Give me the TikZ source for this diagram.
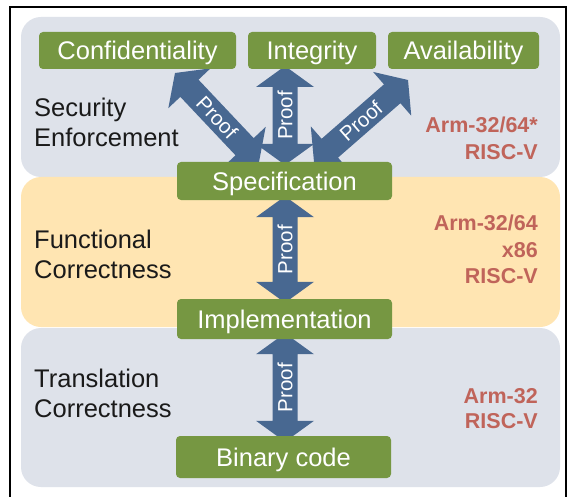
\documentclass[tikz,border=0pt]{standalone}
\usepackage{fontspec}
\setmainfont{Liberation Sans}
\usetikzlibrary{calc}
\pgfdeclarelayer{bands}
\pgfdeclarelayer{arrows}
\pgfsetlayers{bands,arrows,main}

\definecolor{boxgreen}{RGB}{118,151,66}
\definecolor{arrowblue}{RGB}{72,104,145}
\definecolor{bandgray}{RGB}{222,226,234}
\definecolor{bandyellow}{RGB}{255,229,178}
\definecolor{archred}{RGB}{192,100,90}
\definecolor{labelblack}{RGB}{26,26,26}

\newcommand\arrHL{21pt}
\newcommand\arrHH{29pt}
\newcommand\arrSH{12.5pt}
% #1 start, #2 end, #3 label name
\newcommand\ProofArrow[3]{%
  \fill[arrowblue] (#1)
    -- ($(#1)!\arrHL!(#2)!\arrHH!90:(#2)$)
    -- ($(#1)!\arrHL!(#2)!\arrSH!90:(#2)$)
    -- ($(#2)!\arrHL!(#1)!\arrSH!-90:(#1)$)
    -- ($(#2)!\arrHL!(#1)!\arrHH!-90:(#1)$)
    -- (#2)
    -- ($(#2)!\arrHL!(#1)!\arrHH!90:(#1)$)
    -- ($(#2)!\arrHL!(#1)!\arrSH!90:(#1)$)
    -- ($(#1)!\arrHL!(#2)!\arrSH!-90:(#2)$)
    -- ($(#1)!\arrHL!(#2)!\arrHH!-90:(#2)$)
    -- cycle;
  \path (#1) -- (#2) node[midway, sloped, prooftext] (#3) {Proof};%
}

\begin{document}
\begin{tikzpicture}[x=1pt,y=-1pt,
  box/.style={fill=boxgreen, rounded corners=4pt, text=white,
    font=\fontsize{25.5}{30}\selectfont, inner sep=0pt,
    text height=18.3pt, text depth=0pt},
  lab/.style={text=labelblack, font=\fontsize{25.5}{30}\selectfont,
    anchor=base west, inner sep=0pt},
  arch/.style={text=archred, font=\bfseries\fontsize{21.5}{26}\selectfont,
    anchor=base east, inner sep=0pt},
  prooftext/.style={text=white, font=\fontsize{20.5}{24}\selectfont, inner sep=0pt}
]
\useasboundingbox (0,0) rectangle (575,497);

% bands
\begin{pgfonlayer}{bands}
\fill[white] (0,0) rectangle (575,497);
\fill[bandgray, rounded corners=20pt] (21,17) rectangle (560,177);
\fill[bandyellow, rounded corners=20pt] (21,177) rectangle (560,327);
\fill[bandgray, rounded corners=20pt] (21,328) rectangle (560,487);
\draw[black, line width=1.3pt] (10,520) -- (10,7) -- (566,7) -- (566,520);
\end{pgfonlayer}

% boxes
\node[box, minimum width=197pt, minimum height=37pt] (conf) at (137.5,50.5) {Confidentiality};
\node[box, minimum width=128pt, minimum height=37pt] (integ) at (312,50.5) {Integrity};
\node[box, minimum width=151pt, minimum height=37pt] (avail) at (463.5,50.5) {Availability};
\node[box, minimum width=215pt, minimum height=38pt] (spec) at (284.5,181) {Specification};
\node[box, minimum width=215pt, minimum height=40pt] (impl) at (284.5,319) {Implementation};
\node[box, minimum width=215pt, minimum height=42pt] (bin) at (283.5,457) {Binary code};

% arrow end points
\coordinate (la1) at (175,73);
\coordinate (la2) at (259,162);
\coordinate (va1) at (285,165);
\coordinate (va2) at (285,66);
\coordinate (ra1) at (314,162);
\coordinate (ra2) at (408,80);
\coordinate (ma1) at ($(impl.north)+(0.5,4)$);
\coordinate (ma2) at ($(spec.south)+(0.5,-4)$);
\coordinate (ba1) at ($(bin.north)+(1.5,6)$);
\coordinate (ba2) at ($(impl.south)+(0.5,-6)$);

\begin{pgfonlayer}{arrows}
\ProofArrow{la1}{la2}{p1}
\ProofArrow{va1}{va2}{p2}
\ProofArrow{ra1}{ra2}{p3}
\ProofArrow{ma1}{ma2}{p4}
\ProofArrow{ba1}{ba2}{p5}
\end{pgfonlayer}

% left labels
\node[lab] (se1) at (34,117) {Security};
\node[lab] (se2) at (34,147) {Enforcement};
\node[lab] (fc1) at (34,248) {Functional};
\node[lab] (fc2) at (34,278) {Correctness};
\node[lab] (tc1) at (34,387) {Translation};
\node[lab] (tc2) at (34,417) {Correctness};

% right labels
\node[arch] (a1) at (538,133) {Arm-32/64*};
\node[arch] (a2) at (538,160) {RISC-V};
\node[arch] (b1) at (538,230) {Arm-32/64};
\node[arch] (b2) at (538,257) {x86};
\node[arch] (b3) at (538,283) {RISC-V};
\node[arch] (c1) at (538,403) {Arm-32};
\node[arch] (c2) at (538,428) {RISC-V};
\end{tikzpicture}
\end{document}
